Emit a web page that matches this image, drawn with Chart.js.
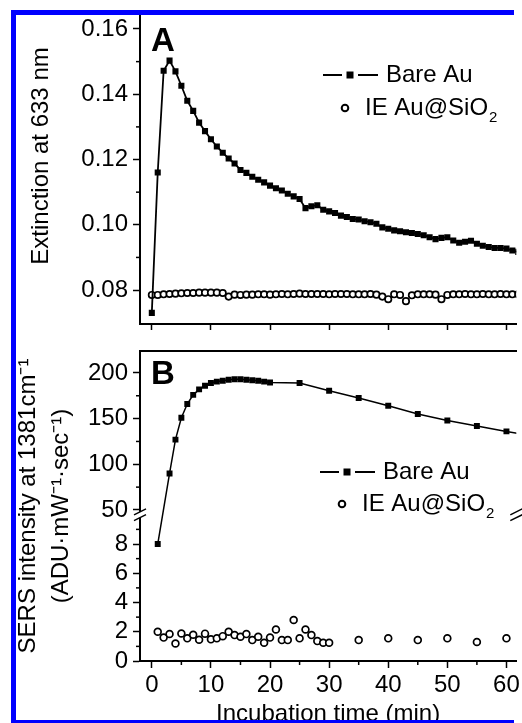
<!DOCTYPE html>
<html>
<head>
<meta charset="utf-8">
<script src="https://cdn.jsdelivr.net/npm/chart.js@4.4.1/dist/chart.umd.min.js"></script>
<style>
  html, body { margin: 0; padding: 0; background: #fff; overflow: hidden; width: 522px; height: 723px; }
  .bar { position: absolute; background: #0000ff; z-index: 5; pointer-events: none; }
  #barLeft { left: 11px; top: 10px; width: 5px; height: 715px; }
  #barTop { left: 11px; top: 10px; width: 503px; height: 5px; }
  #barBottom { left: 11px; top: 720px; width: 503px; height: 5px; }
  #chartA { position: absolute; left: 0; top: 0; }
  #chartB { position: absolute; left: 0; top: 340px; }
</style>
</head>
<body>
<canvas id="chartA" width="522" height="340"></canvas>
<canvas id="chartB" width="522" height="389"></canvas>
<div class="bar" id="barLeft"></div>
<div class="bar" id="barTop"></div>
<div class="bar" id="barBottom"></div>
<script>
// ---- data ----
const seriesNames = ['Bare Au', 'IE Au@SiO₂'];

// Panel A: extinction at 633 nm, one reading per minute
const timeA = [0, 1, 2, 3, 4, 5, 6, 7, 8, 9, 10, 11, 12, 13, 14, 15, 16, 17, 18, 19, 20,
  21, 22, 23, 24, 25, 26, 27, 28, 29, 30, 31, 32, 33, 34, 35, 36, 37, 38, 39, 40,
  41, 42, 43, 44, 45, 46, 47, 48, 49, 50, 51, 52, 53, 54, 55, 56, 57, 58, 59, 60, 61, 62];
const extBare = [0.0730, 0.1160, 0.1472, 0.1503, 0.1470, 0.1426, 0.1380, 0.1349, 0.1313, 0.1287, 0.1262,
  0.1240, 0.1221, 0.1203, 0.1188, 0.1168, 0.1159, 0.1147, 0.1138, 0.1130, 0.1120,
  0.1112, 0.1105, 0.1095, 0.1087, 0.1079, 0.1051, 0.1057, 0.1060, 0.1046, 0.1041,
  0.1036, 0.1028, 0.1024, 0.1018, 0.1016, 0.1011, 0.1008, 0.1003, 0.0992, 0.0988,
  0.0983, 0.0980, 0.0977, 0.0975, 0.0972, 0.0968, 0.0962, 0.0956, 0.0960, 0.0962,
  0.0952, 0.0945, 0.0948, 0.0951, 0.0942, 0.0936, 0.0932, 0.0929, 0.0929, 0.0927, 0.0921, 0.0917];
const extIE = [0.0785, 0.0785, 0.0787, 0.0788, 0.0789, 0.0790, 0.0791, 0.0791, 0.0792, 0.0792, 0.0792,
  0.0792, 0.0791, 0.0780, 0.0786, 0.0785, 0.0786, 0.0786, 0.0787, 0.0787, 0.0786,
  0.0787, 0.0788, 0.0787, 0.0788, 0.0789, 0.0788, 0.0788, 0.0788, 0.0788, 0.0787,
  0.0788, 0.0788, 0.0788, 0.0787, 0.0787, 0.0787, 0.0788, 0.0786, 0.0780, 0.0772,
  0.0787, 0.0785, 0.0766, 0.0784, 0.0787, 0.0787, 0.0787, 0.0786, 0.0772, 0.0785,
  0.0787, 0.0787, 0.0788, 0.0787, 0.0787, 0.0788, 0.0787, 0.0787, 0.0788, 0.0787, 0.0787, 0.0787];

// Panel B: SERS intensity at 1381 cm-1 (broken axis)
const timeBBare = [1, 3, 4, 5, 6, 7, 8, 9, 10, 11, 12, 13, 14, 15, 16, 17, 18, 19, 20, 25, 30, 35, 40, 45, 50, 55, 60, 65];
const sersBare = [8, 90, 127, 151, 166, 176, 182, 186, 189, 190.5, 191.5, 192.5, 193, 193, 192.5, 192, 191.5, 190.5, 189.5,
  189, 180.5, 172.5, 164, 155, 148, 142, 136, 130];
const timeBIE = [1, 2, 3, 4, 5, 6, 7, 8, 9, 10, 11, 12, 13, 14, 15, 16, 17, 18, 19, 20,
  21, 22, 23, 24, 25, 26, 27, 28, 29, 30, 35, 40, 45, 50, 55, 60];
const sersIE = [2.0, 1.6, 1.85, 1.2, 1.88, 1.55, 1.8, 1.45, 1.87, 1.48, 1.55, 1.7, 2.0, 1.77, 1.66, 1.84, 1.43, 1.66, 1.25, 1.6,
  2.15, 1.43, 1.43, 2.8, 1.55, 2.15, 1.77, 1.36, 1.25, 1.25, 1.43, 1.55, 1.43, 1.55, 1.3, 1.55];

// ticks
const timeTicks = [0, 10, 20, 30, 40, 50, 60];
const timeMinor = [5, 15, 25, 35, 45, 55];
const extTicks = [0.08, 0.10, 0.12, 0.14, 0.16];
const extMinor = [0.09, 0.11, 0.13, 0.15];
const sersTicks = [0, 2, 4, 6, 8, 50, 100, 150, 200];
const sersMinor = [1, 3, 5, 7, 9, 75, 125, 175];

const fontFam = "'Liberation Sans', Arial, Helvetica, sans-serif";
Chart.defaults.font.family = fontFam;
Chart.defaults.font.size = 24;
Chart.defaults.color = '#000';

const toPoints = (xs, ys) => xs.map((x, i) => ({ x: x, y: ys[i] }));

// linear scale with a gap between lowMax and highMin
class BrokenScale extends Chart.LinearScale {
  frac(v) {
    const o = this.options;
    if (v <= o.lowMax) return v / o.lowMax * o.lowPart;
    if (v >= o.highMin) return 1 - (this.max - v) / (this.max - o.highMin) * o.highPart;
    return o.lowPart + (v - o.lowMax) / (o.highMin - o.lowMax) * (1 - o.lowPart - o.highPart);
  }
  getPixelForValue(v) {
    return this.getPixelForDecimal(this.frac(v));
  }
  getValueForPixel(p) {
    const o = this.options, d = this.getDecimalForPixel(p);
    if (d <= o.lowPart) return d / o.lowPart * o.lowMax;
    if (d >= 1 - o.highPart) return this.max - (1 - d) / o.highPart * (this.max - o.highMin);
    return o.lowMax + (d - o.lowPart) / (1 - o.lowPart - o.highPart) * (o.highMin - o.lowMax);
  }
}
BrokenScale.id = 'broken';
BrokenScale.defaults = {};
Chart.register(BrokenScale);

// minor ticks, axis break, legend, panel letter, y title
const decor = {
  id: 'decor',
  afterDraw(chart, args, o) {
    const ctx = chart.ctx;
    const area = chart.chartArea;
    ctx.save();
    ctx.strokeStyle = '#000';
    ctx.fillStyle = '#000';
    ctx.lineWidth = 1.5;
    (o.minor || []).forEach(m => {
      const s = chart.scales[m.axis];
      m.values.forEach(v => {
        const p = s.getPixelForValue(v);
        if (s.isHorizontal() && p > area.right) return;
        ctx.beginPath();
        if (s.isHorizontal()) { ctx.moveTo(p, s.top); ctx.lineTo(p, s.top + m.len); }
        else { ctx.moveTo(s.right, p); ctx.lineTo(s.right - m.len, p); }
        ctx.stroke();
      });
    });

    if (o.breakAxis) {
      const s = chart.scales[o.breakAxis];
      const y1 = s.getPixelForValue(s.options.lowMax);
      const y2 = s.getPixelForValue(s.options.highMin);
      [area.left, area.right].forEach(x => {
        ctx.fillStyle = '#fff';
        ctx.fillRect(x - 2, y2, 4, y1 - y2);
        ctx.lineWidth = 1.5;
        [y1, y2].forEach(y => {
          ctx.beginPath();
          ctx.moveTo(x - 6, y + 3);
          ctx.lineTo(x + 6, y - 3);
          ctx.stroke();
        });
      });
    }

    const lg = o.legend;
    if (lg) {
      const names = chart.data.datasets.map(d => d.label);
      ctx.fillStyle = '#000';
      ctx.strokeStyle = '#000';
      ctx.lineWidth = 2;
      ctx.beginPath();
      ctx.moveTo(lg.x, lg.y); ctx.lineTo(lg.x + 19, lg.y);
      ctx.moveTo(lg.x + 35, lg.y); ctx.lineTo(lg.x + 55, lg.y);
      ctx.stroke();
      ctx.fillRect(lg.x + 23.5, lg.y - 3.5, 7, 7);
      ctx.font = '24px ' + fontFam;
      ctx.textBaseline = 'middle';
      ctx.fillText(names[0], lg.x + 63, lg.y);

      const y2 = lg.y + lg.dy;
      ctx.beginPath();
      ctx.arc(lg.x + 22, y2, 3.3, 0, Math.PI * 2);
      ctx.stroke();
      const base = names[1].replace('₂', '');
      ctx.fillText(base, lg.x + 42, y2);
      const w = ctx.measureText(base).width;
      ctx.font = '15px ' + fontFam;
      ctx.fillText('2', lg.x + 42 + w + 1, y2 + 10);
    }

    if (o.letter) {
      ctx.fillStyle = '#000';
      ctx.font = 'bold 33px ' + fontFam;
      ctx.textBaseline = 'alphabetic';
      ctx.fillText(o.letter.text, o.letter.x, o.letter.y);
    }

    if (o.yTitle) {
      ctx.fillStyle = '#000';
      ctx.font = '24px ' + fontFam;
      ctx.textAlign = 'center';
      ctx.textBaseline = 'middle';
      ctx.translate(o.yTitle.x, o.yTitle.y);
      ctx.rotate(-Math.PI / 2);
      ctx.fillText(o.yTitle.text, 0, 0);
    }
    ctx.restore();
  }
};

const axisBorder = { display: true, color: '#000', width: 2 };
const tickGrid = len => ({ drawOnChartArea: false, drawTicks: true, tickLength: len, tickWidth: 1.5, tickColor: '#000' });

// ---- Panel A ----
new Chart(document.getElementById('chartA'), {
  type: 'line',
  data: {
    datasets: [
      {
        label: seriesNames[0],
        data: toPoints(timeA, extBare),
        borderColor: '#000',
        borderWidth: 1.8,
        pointStyle: 'rect',
        pointRadius: 4.3,
        pointBackgroundColor: '#000',
        pointBorderWidth: 0
      },
      {
        label: seriesNames[1],
        data: toPoints(timeA, extIE),
        showLine: false,
        pointStyle: 'circle',
        pointRadius: 3.2,
        pointBackgroundColor: '#fff',
        pointBorderColor: '#000',
        pointBorderWidth: 1.7
      }
    ]
  },
  options: {
    responsive: false,
    animation: false,
    layout: { padding: { top: 13, left: 0, right: 0, bottom: 0 } },
    plugins: {
      legend: { display: false },
      tooltip: { enabled: false },
      decor: {
        minor: [{ axis: 'y', values: extMinor, len: 4 }],
        legend: { x: 323, y: 75, dy: 33 },
        letter: { text: 'A', x: 151, y: 51 },
        yTitle: { text: 'Extinction at 633 nm', x: 41, y: 156 }
      }
    },
    scales: {
      x: {
        type: 'linear', min: -2, max: 61.667,
        afterBuildTicks: s => { s.ticks = timeTicks.map(v => ({ value: v })); },
        ticks: { display: false },
        grid: tickGrid(6),
        border: axisBorder,
        afterFit: s => { s.height = 16; s.paddingLeft = 0; s.paddingRight = 0; }
      },
      y: {
        type: 'linear', min: 0.0696, max: 0.1649,
        afterBuildTicks: s => { s.ticks = extTicks.map(v => ({ value: v })); },
        ticks: { callback: v => v.toFixed(2), padding: 5 },
        grid: tickGrid(7),
        border: axisBorder,
        afterFit: s => { s.width = 140; s.paddingTop = 0; s.paddingBottom = 0; }
      }
    }
  },
  plugins: [decor]
});

// ---- Panel B ----
new Chart(document.getElementById('chartB'), {
  type: 'line',
  data: {
    datasets: [
      {
        label: seriesNames[0],
        data: toPoints(timeBBare, sersBare),
        borderColor: '#000',
        borderWidth: 1.5,
        pointStyle: 'rect',
        pointRadius: 4.2,
        pointBackgroundColor: '#000',
        pointBorderWidth: 0
      },
      {
        label: seriesNames[1],
        data: toPoints(timeBIE, sersIE),
        showLine: false,
        pointStyle: 'circle',
        pointRadius: 3.4,
        pointBackgroundColor: '#fff',
        pointBorderColor: '#000',
        pointBorderWidth: 1.7
      }
    ]
  },
  options: {
    responsive: false,
    animation: false,
    layout: { padding: { top: 11, left: 0, right: 0, bottom: 0 } },
    plugins: {
      legend: { display: false },
      tooltip: { enabled: false },
      decor: {
        minor: [{ axis: 'y', values: sersMinor, len: 4 }, { axis: 'x', values: timeMinor, len: 4 }],
        breakAxis: 'y',
        legend: { x: 320, y: 132, dy: 32 },
        letter: { text: 'B', x: 151, y: 44 }
      }
    },
    scales: {
      x: {
        type: 'linear', position: 'bottom', min: -2, max: 61.667,
        afterBuildTicks: s => { s.ticks = timeTicks.map(v => ({ value: v })); },
        ticks: { padding: 3, maxRotation: 0, autoSkip: false },
        grid: tickGrid(7),
        border: axisBorder,
        title: { display: true, text: 'Incubation time (min)', padding: { bottom: 0 } },
        afterFit: s => { s.height = 68; s.paddingLeft = 0; s.paddingRight = 0; }
      },
      xTop: {
        type: 'linear', position: 'top', min: -2, max: 61.667,
        ticks: { display: false },
        grid: { drawOnChartArea: false, drawTicks: false },
        border: axisBorder,
        afterFit: s => { s.height = 0; }
      },
      y: {
        type: 'broken', min: 0, max: 224,
        lowMax: 9.8, highMin: 48, lowPart: 0.4623, highPart: 0.5187,
        afterBuildTicks: s => { s.ticks = sersTicks.map(v => ({ value: v })); },
        ticks: { callback: v => String(v), padding: 5, autoSkip: false },
        grid: tickGrid(7),
        border: axisBorder,
        title: {
          display: true,
          text: ['SERS intensity at 1381cm⁻¹', '(ADU·mW⁻¹·sec⁻¹)'],
          font: { size: 24, lineHeight: 1.375 },
          padding: { top: 11.5 }
        },
        afterFit: s => { s.width = 140; s.paddingTop = 0; s.paddingBottom = 0; }
      }
    }
  },
  plugins: [decor]
});
</script>
</body>
</html>
